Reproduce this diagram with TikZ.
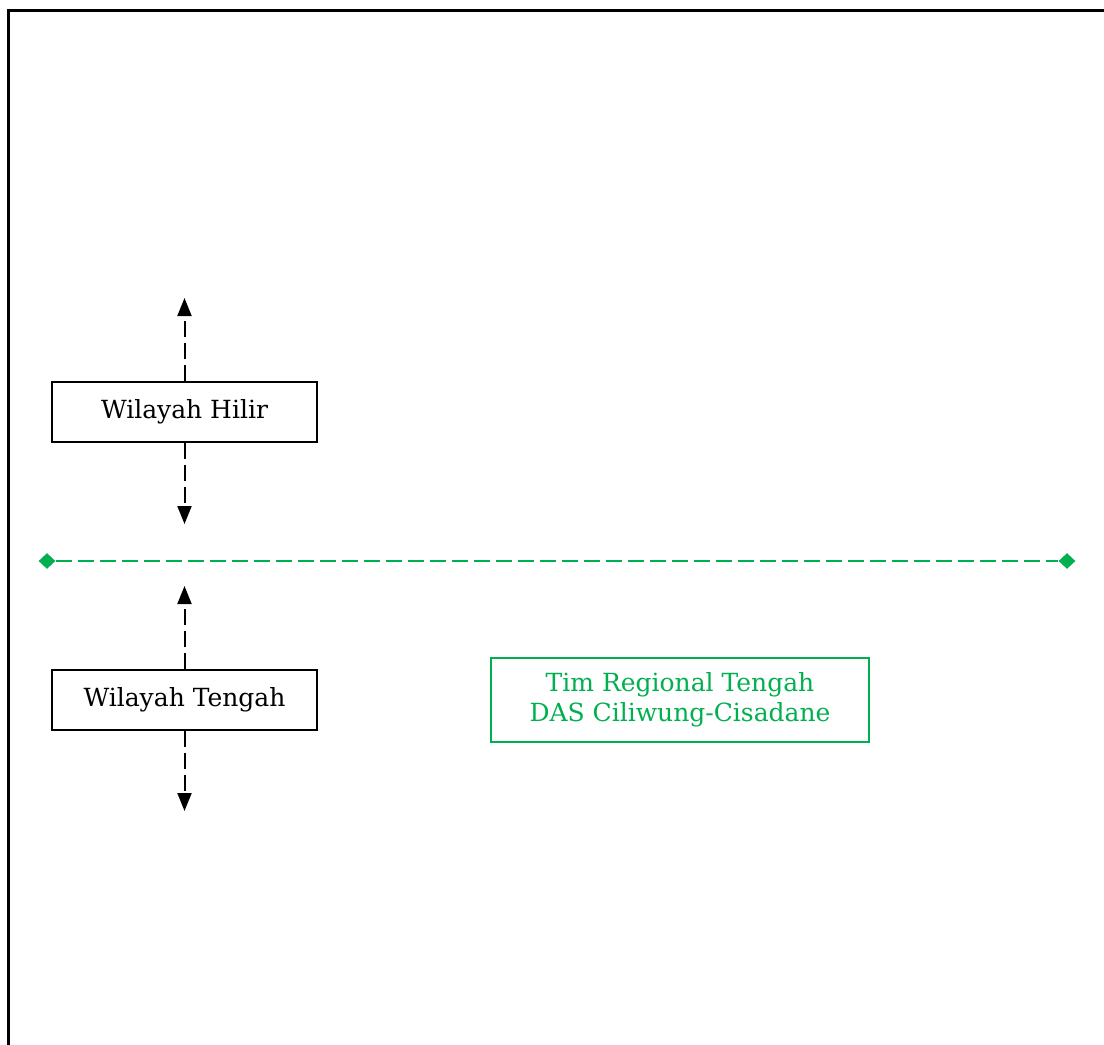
\documentclass[tikz,border=0pt]{standalone}
\usepackage{fontspec}
\setmainfont{DejaVu Serif}
\usepackage{xcolor}
\usepackage{tikz}
\usetikzlibrary{arrows.meta,positioning,shapes.geometric}
\definecolor{dasGreen}{HTML}{00B050}

\begin{document}
\begin{tikzpicture}[x=0.5pt, y=-0.5pt, font=\fontsize{12.5}{15}\selectfont, >={Triangle[width=7pt,length=9pt]},
  wbox/.style={draw,line width=0.6pt,minimum width=132.5pt,minimum height=30pt,inner sep=0pt},
  gbox/.style={draw=dasGreen,text=dasGreen,line width=0.6pt,minimum width=189pt,minimum height=42pt,align=center,inner sep=0pt},
  darrow/.style={line width=1pt,dash pattern=on 8pt off 3pt,->},
  gdot/.style={diamond,fill=dasGreen,minimum width=8.5pt,minimum height=8pt,inner sep=0pt}]
  \useasboundingbox (0,0) rectangle (1104,1045);
% --- frame ---
  \draw[line width=1.5pt] (8,1045) -- (8,10) -- (1104,10);
% --- regions ---
  \node[wbox] (hilir) at (184.5,412) {Wilayah Hilir};
  \node[wbox] (tengah) at (184.5,700) {Wilayah Tengah};
  \coordinate (hilirup) at (184.5,298);
  \coordinate (hilirdn) at (184.5,524);
  \coordinate (tengahup) at (184.5,586);
  \coordinate (tengahdn) at (184.5,811);
  \draw[darrow] (hilir.north) -- (hilirup);
  \draw[darrow] (hilir.south) -- (hilirdn);
  \draw[darrow] (tengah.north) -- (tengahup);
  \draw[darrow] (tengah.south) -- (tengahdn);
% --- border line ---
  \node[gdot] (gl) at (47,561) {};
  \node[gdot] (gr) at (1067,561) {};
  \draw[dasGreen,line width=1pt,dash pattern=on 8pt off 3pt] (gl) -- (gr);
  \node[gbox] (timreg) at (680,700) {Tim Regional Tengah\\DAS Ciliwung-Cisadane};
\end{tikzpicture}
\end{document}
